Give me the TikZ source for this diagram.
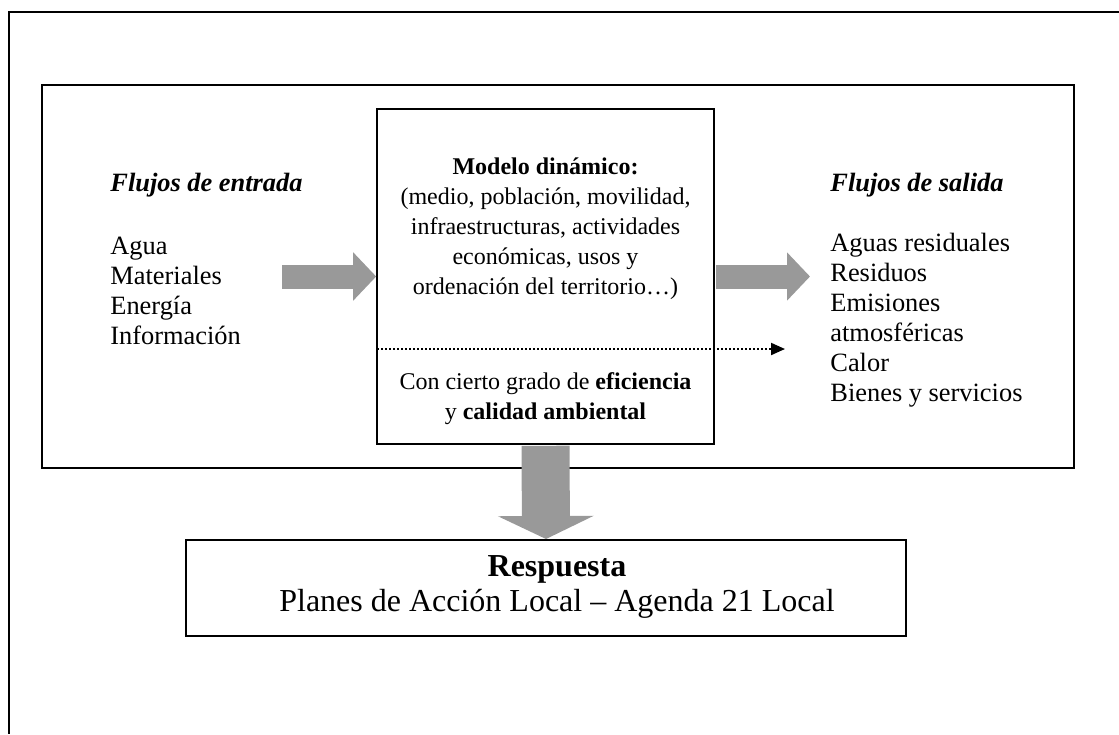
\documentclass[tikz,border=0pt]{standalone}
\usepackage{fontspec}
\setmainfont{Liberation Serif}
\usetikzlibrary{arrows.meta}
\definecolor{gris}{RGB}{153,153,153}

\begin{document}
\begin{tikzpicture}[x=0.5pt,y=0.5pt]
\tikzstyle{every node}+=[inner sep=0pt]
\tikzstyle{caja}=[draw=black, line width=0.8pt, rectangle]
\tikzstyle{texto}=[font=\fontsize{12}{15}\selectfont]
\tikzstyle{lista}=[anchor=west, align=left, font=\fontsize{13.2}{15}\selectfont]
\tikzstyle{flecha}=[draw=gris, color=gris, line width=12pt, shorten <=0.5pt, -{Triangle[length=11.5pt,width=23.5pt]}]
\useasboundingbox (0,0) rectangle (1119,-734);
\draw [black, line width=0.7pt] (1119,-12) -- (9,-12) -- (9,-734);
\draw (558,-276.5) node [caja, line width=1pt, minimum width=516pt, minimum height=191.5pt] (sistema) {};
\draw (545.5,-276.5) node [caja, minimum width=168.5pt, minimum height=167.5pt] (modelo) {};
\draw (546,-588) node [caja, line width=1pt, minimum width=360pt, minimum height=48pt] (respuesta) {};
\draw (557,-587) node [align=center, font=\fontsize{16}{17.5}\selectfont] (respuestaT) {\textbf{Respuesta}\\Planes de Acción Local – Agenda 21 Local};
\draw (110,-185) node [lista] (entradaT) {\textbf{\textit{Flujos de entrada}}};
\draw (110,-291) node [lista] (entradaL) {Agua\\Materiales\\Energía\\Información};
\draw (830,-185) node [lista] (salidaT) {\textbf{\textit{Flujos de salida}}};
\draw (830,-320.5) node [lista] (salidaL) {Aguas residuales\\Residuos\\Emisiones\\atmosféricas\\Calor\\Bienes y servicios};
\draw (545.5,-229) node [texto, align=center] (modeloT) {\textbf{Modelo dinámico:}\\(medio, población, movilidad,\\infraestructuras, actividades\\económicas, usos y\\ordenación del territorio…)};
\draw (545.5,-398.5) node [texto, align=center] (eficT) {Con cierto grado de \textbf{eficiencia}\\y \textbf{calidad ambiental}};
\coordinate (entradaF) at (282,-276.5);
\coordinate (salidaF) at (810,-276.5);
\coordinate (puntoA) at (377,-349);
\coordinate (puntoB) at (785,-349);
\draw [flecha, shorten <=0pt] (entradaF) -- (modelo.west);
\draw [flecha] (modelo.east) -- (salidaF);
\draw [flecha, line width=24pt, -{Triangle[length=11.5pt,width=47.5pt]}] (modelo.south) -- (respuesta.north);
\draw [black, line width=1pt, dash pattern=on 1pt off 1pt, -{Triangle[length=7pt,width=6pt]}] (puntoA) -- (puntoB);
\end{tikzpicture}
\end{document}
